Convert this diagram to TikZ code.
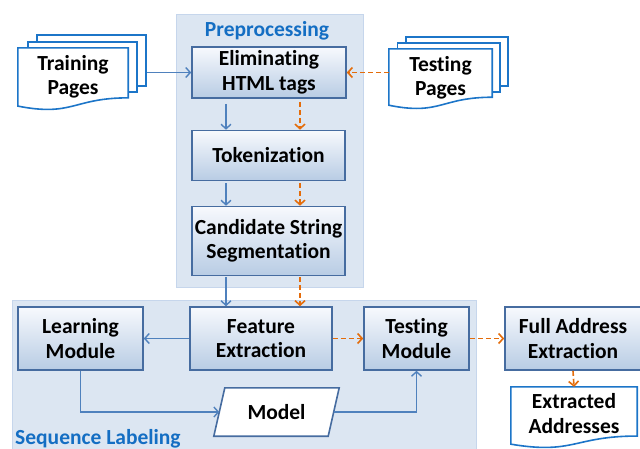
\documentclass[tikz,border=0pt]{standalone}
\usepackage{fontspec}
\setmainfont{Carlito}[Ligatures=NoCommon]
\usetikzlibrary{arrows.meta,calc}
\definecolor{panelfill}{RGB}{220,230,242}
\definecolor{paneledge}{RGB}{198,214,236}
\definecolor{boxedge}{RGB}{70,108,160}
\definecolor{boxtop}{RGB}{247,249,253}
\definecolor{boxbot}{RGB}{184,204,228}
\definecolor{docedge}{RGB}{28,117,200}
\definecolor{flowblue}{RGB}{79,129,189}
\definecolor{floworange}{RGB}{228,108,10}
\definecolor{labelblue}{RGB}{20,110,195}
\newcommand\docshape[1]{%
  \path[docline] let \p1=(#1.north west), \p2=(#1.south east), \n1={\y1-\y2} in
   (\x1,\y1) -- (\x2,\y1) -- (\x2,{\y1-0.802*\n1})
   .. controls ({(\x1+\x2)/2},{\y1-0.802*\n1}) and ({(\x1+\x2)/2},{\y1-1.108*\n1}) ..
   (\x1,{\y1-0.934*\n1}) -- cycle;}
\begin{document}
\begin{tikzpicture}[x=1pt,y=-1pt,
  font=\fontsize{21.5}{24.5}\selectfont\bfseries,
  box/.style={draw=boxedge, line width=1.6pt, top color=boxtop, bottom color=boxbot, align=center, inner sep=0pt},
  panel/.style={fill=panelfill, draw=paneledge, line width=1pt},
  placeholder/.style={inner sep=0pt},
  doctext/.style={align=center, inner sep=0pt},
  layer/.style={draw=docedge, fill=white, line width=1.6pt, inner sep=0pt},
  docline/.style={draw=docedge, fill=white, line width=1.6pt},
  modelline/.style={draw=boxedge, fill=white, line width=1.6pt},
  bluearrow/.style={draw=flowblue, line width=1.4pt, -{Straight Barb[length=4.5pt,width=10pt]}},
  orangearrow/.style={draw=floworange, line width=1.6pt, dash pattern=on 5pt off 3pt, -{Straight Barb[length=4.5pt,width=10pt]}},
  panellabel/.style={text=labelblue, inner sep=0pt}
]
\useasboundingbox (0,0) rectangle (640,448);

% panels
\path[panel] (176,14) rectangle (363,287);
\path[panel] (12,300) rectangle (476,460);
\node[panellabel, anchor=base] (prelbl) at (267,36) {Preprocessing};
\node[panellabel, anchor=base west] (seqlbl) at (15,444) {Sequence Labeling};

% boxes
\node[box, minimum width=154pt, minimum height=51pt] (elim) at (269,72.5) {Eliminating\\HTML tags};
\node[box, minimum width=153pt, minimum height=50pt] (tok) at (268.5,155.5) {Tokenization};
\node[box, minimum width=153pt, minimum height=69pt] (cand) at (268.5,241) {Candidate String\\Segmentation};
\node[box, minimum width=125pt, minimum height=63pt] (learn) at (80.5,338.5) {Learning\\Module};
\node[box, minimum width=142pt, minimum height=63pt] (feat) at (261,338.5) {Feature\\Extraction};
\node[box, minimum width=105pt, minimum height=63pt] (testm) at (416.5,338.5) {Testing\\Module};
\node[box, minimum width=136pt, minimum height=63pt] (full) at (573,338.5) {Full Address\\Extraction};

% Training pages stack
\node[layer, minimum width=109pt, minimum height=51pt] (train3) at (91.5,60.5) {};
\node[layer, minimum width=109pt, minimum height=50pt] (train2) at (82.5,67) {};
\node[placeholder, minimum width=110pt, minimum height=62pt] (train) at (73,79) {};
\docshape{train}
\node[doctext] (trainlbl) at ($(train.center)+(0,-2)$) {Training\\Pages};

% Testing pages stack
\node[layer, minimum width=102pt, minimum height=49pt] (test3) at (457,61.5) {};
\node[layer, minimum width=102.5pt, minimum height=49pt] (test2) at (448.75,67.5) {};
\node[placeholder, minimum width=103pt, minimum height=60pt] (testp) at (440.5,79) {};
\docshape{testp}
\node[doctext] (testlbl) at ($(testp.center)+(0,-1)$) {Testing\\Pages};

% Extracted addresses
\node[placeholder, minimum width=126pt, minimum height=61pt] (extr) at (574,417.5) {};
\docshape{extr}
\node[doctext] (extrlbl) at ($(extr.center)+(0,-4)$) {Extracted\\Addresses};

% Model
\node[placeholder, minimum width=125pt, minimum height=48pt] (model) at (276.5,412) {};
\path[modelline] (model.south west) -- ($(model.north west)+(11,0)$) -- (model.north east)
  -- ($(model.south east)+(-11,0)$) -- cycle;
\node[doctext] (modellbl) at (model.center) {Model};

% column coordinates
\coordinate (bx) at (226,0);
\coordinate (ox) at (300,0);

% connectors
\draw[bluearrow] (train3.east |- elim.west) -- (elim.west);
\draw[orangearrow] (testp.west |- elim.east) -- (elim.east);

\draw[bluearrow, shorten <=5pt] (elim.south -| bx) -- (tok.north -| bx);
\draw[orangearrow, shorten <=3pt] (elim.south -| ox) -- (tok.north -| ox);
\draw[bluearrow, shorten <=2pt] (tok.south -| bx) -- (cand.north -| bx);
\draw[orangearrow, shorten <=2pt] (tok.south -| ox) -- (cand.north -| ox);
\draw[bluearrow, shorten <=1pt] (cand.south -| bx) -- (feat.north -| bx);
\draw[orangearrow, shorten <=1pt] (cand.south -| ox) -- (feat.north -| ox);

\draw[bluearrow] (feat.west) -- (learn.east);
\draw[orangearrow] (feat.east) -- (testm.west);
\draw[orangearrow] (testm.east) -- (full.west);
\draw[orangearrow] (full.south) -- (extr.north);

\draw[bluearrow] (learn.south) |- ($(model.west)+(5.5,0)$);
\draw[bluearrow] ($(model.east)+(-5.5,0)$) -| (testm.south);
\end{tikzpicture}
\end{document}
